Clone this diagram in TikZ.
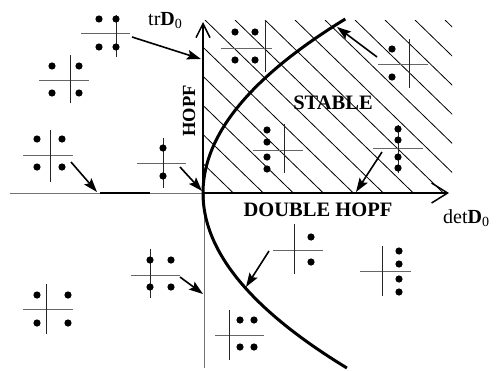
\documentclass[tikz,border=0pt]{standalone}
\usepackage{fontspec}
\setmainfont{Liberation Serif}
\usetikzlibrary{arrows.meta}
\begin{document}
\begin{tikzpicture}[x=1pt,y=-1pt,
  hl/.style={draw=black!60, line width=0.9pt},
  vl/.style={draw=black!85, line width=0.9pt},
  eig/.style={fill=black},
  hatchline/.style={line width=0.8pt},
  conn/.style={line width=1.6pt, -{Stealth[length=14pt,width=9.5pt,inset=2.5pt]}},
  axisline/.style={line width=1.5pt},
  lbl/.style={inner sep=0pt, font=\fontsize{20}{24}\selectfont},
  bold/.style={inner sep=0pt, font=\fontsize{20.5}{24}\selectfont\bfseries}]
\useasboundingbox (0,0) rectangle (498,370);
% hatched stable region
\begin{scope}
  \clip (203,20) rectangle (452,193);
  \foreach \k in {-7,...,9} \draw[hatchline] ({205+30*\k},20) -- ++(200,194);
\end{scope}
% axes
\coordinate (O) at (203,193);
\coordinate (xleft) at (10,193);
\coordinate (xright) at (449,193);
\coordinate (ytop) at (203,22);
\coordinate (ybot) at (204,368);
\draw[draw=black!55, line width=1pt] (xleft) -- (O);
\draw[line width=1.1pt] (100,193) -- (150,193);
\draw[draw=black!55, line width=1pt] (204,193) -- (ybot);
\draw[axisline, -{Straight Barb[length=14pt,width=14pt,line width=1.5pt]}] (O) -- (ytop);
\draw[axisline, -{Straight Barb[length=16pt,width=20pt,line width=1.5pt]}] (O) -- (xright);
% boundary curve
\draw[line width=3pt] plot[domain=-17.4:17.5, samples=71, smooth] ({203+0.47*\x*\x},{193+10*\x});
% eigenvalue symbols
% S1
\draw[hl] (81,33) -- (130,33); \draw[vl] (116,15) -- (116,57);
\foreach \p in {(99,19),(116,19),(99,47),(116,47)} \fill[eig] \p circle (3.6);
% S2
\draw[hl] (39,80) -- (89,80); \draw[vl] (70,55) -- (70,103);
\foreach \p in {(52,66),(79,66),(52,93),(79,93)} \fill[eig] \p circle (3.6);
% S3
\draw[hl] (23,155) -- (73,155); \draw[vl] (50,130) -- (50,182);
\foreach \p in {(37,139),(62,139),(37,167),(62,167)} \fill[eig] \p circle (3.6);
% S4
\draw[hl] (137,163) -- (186,163); \draw[vl] (163,138) -- (163,188);
\foreach \p in {(163,148),(163,176)} \fill[eig] \p circle (3.6);
% S5
\draw[hl] (221,48) -- (272,48); \draw[vl] (265,20) -- (265,72);
\foreach \p in {(235,32),(255,32),(235,60),(255,60)} \fill[eig] \p circle (3.6);
% S6
\draw[hl] (378,64) -- (428,64); \draw[vl] (409,39) -- (409,88);
\foreach \p in {(392,49),(392,77)} \fill[eig] \p circle (3.6);
% S7
\draw[hl] (253,150) -- (303,150); \draw[vl] (284,124) -- (284,173);
\foreach \p in {(267,130),(267,142),(267,157),(267,169)} \fill[eig] \p circle (3.6);
% S8
\draw[hl] (373,148) -- (423,148); \draw[vl] (398,125) -- (398,173);
\foreach \p in {(398,129),(398,140),(398,157),(398,168)} \fill[eig] \p circle (3.6);
% S9
\draw[hl] (131,275) -- (180,275); \draw[vl] (150,249) -- (150,298);
\foreach \p in {(150,260),(171,260),(150,287),(171,287)} \fill[eig] \p circle (3.6);
% S10
\draw[hl] (23,309) -- (73,309); \draw[vl] (46,284) -- (46,334);
\foreach \p in {(37,295),(68,295),(37,323),(68,323)} \fill[eig] \p circle (3.6);
% S11
\draw[hl] (273,250) -- (323,250); \draw[vl] (294,224) -- (294,274);
\foreach \p in {(311,237),(311,262)} \fill[eig] \p circle (3.6);
% S12
\draw[hl] (360,271) -- (411,271); \draw[vl] (382,246) -- (382,296);
\foreach \p in {(399,251),(399,264),(399,279),(399,292)} \fill[eig] \p circle (3.6);
% S13
\draw[hl] (215,335) -- (264,335); \draw[vl] (229,310) -- (229,360);
\foreach \p in {(240,320),(254,320),(240,347),(254,347)} \fill[eig] \p circle (3.6);
% connectors
\coordinate (a1s) at (132,37);  \coordinate (a1e) at (201,59);
\coordinate (a3s) at (71,162);  \coordinate (a3e) at (97,192);
\coordinate (a4s) at (180,167); \coordinate (a4e) at (202,191);
\coordinate (a6s) at (377,57);  \coordinate (a6e) at (337,27);
\coordinate (a8s) at (382,152); \coordinate (a8e) at (356,192);
\coordinate (a9s) at (180,277); \coordinate (a9e) at (203,294);
\coordinate (a11s) at (269,251); \coordinate (a11e) at (246,287);
\draw[conn] (a1s) -- (a1e);
\draw[conn] (a3s) -- (a3e);
\draw[conn] (a4s) -- (a4e);
\draw[conn] (a6s) -- (a6e);
\draw[conn] (a8s) -- (a8e);
\draw[conn] (a9s) -- (a9e);
\draw[conn] (a11s) -- (a11e);
% labels
\node[lbl, anchor=base west] (trd) at (148,25) {tr\textbf{D}\textsubscript{0}};
\node[lbl, anchor=base west] (detd) at (443,223) {det\textbf{D}\textsubscript{0}};
\node[bold, rotate=90, font=\fontsize{18.5}{22}\selectfont\bfseries] (hopf) at (189,111) {HOPF};
\node[bold] (stable) at (333,103) {STABLE};
\node[bold] (dhopf) at (318,210) {DOUBLE HOPF};
\end{tikzpicture}
\end{document}
